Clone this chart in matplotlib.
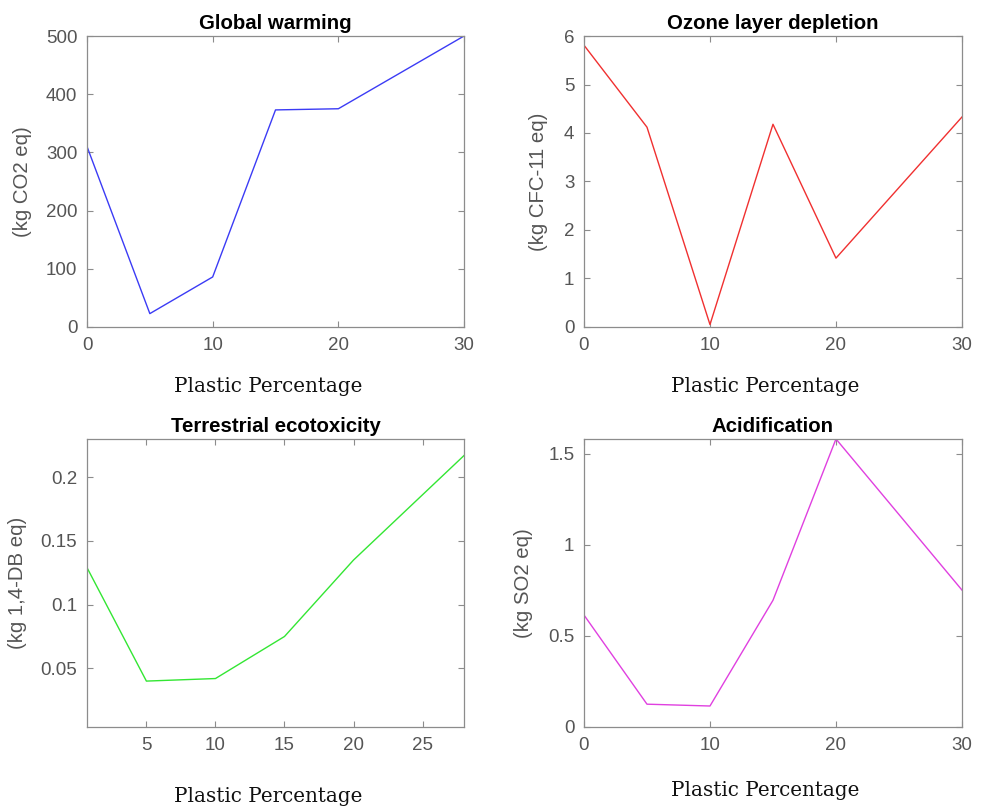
import matplotlib.pyplot as plt
from matplotlib.ticker import FuncFormatter

# data
x_full = [0, 5, 10, 15, 20, 30]
global_warming = [310, 23, 86, 373, 375, 500]
ozone_depletion = [5.81, 4.12, 0.05, 4.18, 1.42, 4.33]

x_terr = [0.7, 5, 10, 15, 20, 28]
terrestrial = [0.129, 0.040, 0.042, 0.075, 0.135, 0.217]

acidification = [0.614, 0.125, 0.115, 0.695, 1.58, 0.751]

titles = ["Global warming", "Ozone layer depletion",
          "Terrestrial ecotoxicity", "Acidification"]
ylabels = ["(kg CO2 eq)", "(kg CFC-11 eq)", "(kg 1,4-DB eq)", "(kg SO2 eq)"]
xlabel = "Plastic Percentage"

gray = "#555555"
spine_gray = "#8c8c8c"

fig = plt.figure(figsize=(9.81, 8.09), dpi=100)

# [left, bottom, width, height] in figure fraction
rects = [
    [0.0887, 0.5958, 0.3843, 0.3597],
    [0.5953, 0.5958, 0.3853, 0.3597],
    [0.0887, 0.1014, 0.3843, 0.3560],
    [0.5953, 0.1014, 0.3853, 0.3560],
]

series = [
    (x_full, global_warming, "#3b3bf5", (0, 30), (0, 500), [0, 100, 200, 300, 400, 500], [0, 10, 20, 30]),
    (x_full, ozone_depletion, "#f03030", (0, 30), (0, 6), [0, 1, 2, 3, 4, 5, 6], [0, 10, 20, 30]),
    (x_terr, terrestrial, "#33e633", (0.7, 28), (0.004, 0.230), [0.05, 0.1, 0.15, 0.2], [5, 10, 15, 20, 25]),
    (x_full, acidification, "#e040e0", (0, 30), (0, 1.58), [0, 0.5, 1, 1.5], [0, 10, 20, 30]),
]

ylab_x = [-0.146, -0.095, -0.159, -0.135]
xlab_y = [-0.206, -0.206, -0.243, -0.219]

fmt = FuncFormatter(lambda v, p: "%g" % v)

for i, (xs, ys, color, xl, yl, yt, xt) in enumerate(series):
    ax = fig.add_axes(rects[i])
    ax.plot(xs, ys, color=color, linewidth=1.0)
    ax.set_xlim(*xl)
    ax.set_ylim(*yl)
    ax.set_yticks(yt)
    ax.set_xticks(xt)
    ax.yaxis.set_major_formatter(fmt)
    ax.xaxis.set_major_formatter(fmt)
    ax.tick_params(direction="in", top=True, right=True, length=4,
                   width=0.8, color=spine_gray, labelcolor=gray,
                   labelsize=13.5, pad=7)
    for sp in ax.spines.values():
        sp.set_color(spine_gray)
        sp.set_linewidth(0.9)
    ax.set_title(titles[i], fontsize=14.7, fontweight="bold",
                 family="Liberation Sans", pad=5)
    for lab in ax.get_xticklabels() + ax.get_yticklabels():
        lab.set_family("Liberation Sans")
    ax.set_ylabel(ylabels[i], fontsize=14.7, color=gray, family="Liberation Sans")
    ax.yaxis.set_label_coords(ylab_x[i], 0.5)
    ax.set_xlabel(xlabel, fontsize=14.3, family="DejaVu Serif", color="#111111")
    ax.xaxis.set_label_coords(0.48, xlab_y[i])
    ax.xaxis.label.set_va("center")

fig.savefig("out.png", dpi=100)
